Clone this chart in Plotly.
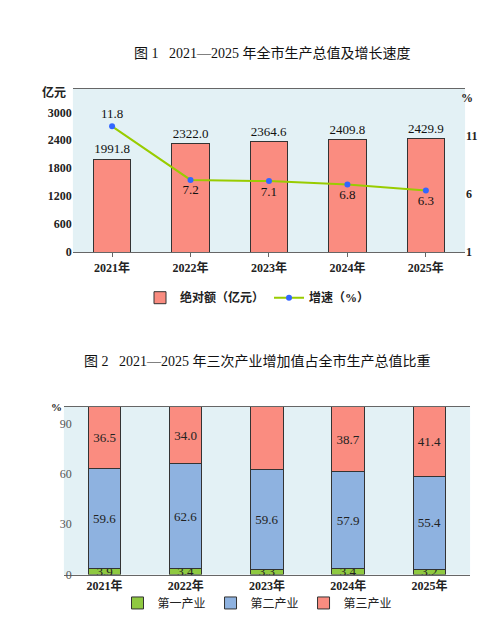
import plotly.graph_objects as go

years = ["2021年", "2022年", "2023年", "2024年", "2025年"]
gdp = [1991.8, 2322.0, 2364.6, 2409.8, 2429.9]
growth = [11.8, 7.2, 7.1, 6.8, 6.3]
primary = [3.9, 3.4, 3.3, 3.4, 3.2]
secondary = [59.6, 62.6, 59.6, 57.9, 55.4]
tertiary = [36.5, 34.0, 37.2, 38.7, 41.4]

F = "Liberation Serif, Noto Sans CJK SC"
BG = "#e3f1f5"
fig = go.Figure()

fig.add_trace(go.Bar(x=years, y=gdp, name="绝对额（亿元）", marker=dict(color="#fa8c80", line=dict(color="#333", width=1)),
                     text=[f"{v:.1f}" for v in gdp], textposition="outside", textfont=dict(size=13, color="#111"),
                     width=0.48, xaxis="x", yaxis="y", legend="legend", cliponaxis=False))
fig.add_trace(go.Scatter(x=years, y=growth, name="增速（%）", mode="lines+markers+text",
                         line=dict(color="#99cc00", width=2), marker=dict(color="#3366ff", size=6),
                         text=[f"{v:.1f}" for v in growth],
                         textposition=["top center"] + ["bottom center"] * 4,
                         textfont=dict(size=13, color="#111"),
                         xaxis="x", yaxis="y2", legend="legend", cliponaxis=False))

for nm, vals, col in [("第一产业", primary, "#8fc941"), ("第二产业", secondary, "#8eb2e0"), ("第三产业", tertiary, "#fa8c80")]:
    fig.add_trace(go.Bar(x=years, y=vals, name=nm, marker=dict(color=col, line=dict(color="#333", width=1)),
                         text=[f"{v:.1f}" for v in vals], textposition="inside", insidetextanchor="middle",
                         constraintext="none", cliponaxis=False,
                         textfont=dict(size=13, color="#222"), width=0.4,
                         xaxis="x2", yaxis="y3", legend="legend2"))

fig.update_layout(
    width=499, height=630, margin=dict(l=0, r=0, t=0, b=0),
    paper_bgcolor="white", plot_bgcolor=BG, barmode="stack",
    font=dict(family=F, color="#222", size=12), showlegend=True,
    xaxis=dict(domain=[0.13, 0.916], anchor="y", showline=True, linecolor="#666", mirror=True,
               ticks="outside", ticklen=4, tickcolor="#666", tickfont=dict(size=12, weight="bold")),
    yaxis=dict(domain=[0.608, 0.870], range=[0, 3500], tickvals=[0, 600, 1200, 1800, 2400, 3000],
               showgrid=False, zeroline=False, tickfont=dict(size=12, weight="bold")),
    yaxis2=dict(overlaying="y", side="right", anchor="x", range=[1, 15], tickvals=[1, 6, 11],
                showgrid=False, zeroline=False, tickfont=dict(size=12, weight="bold")),
    xaxis2=dict(domain=[0.112, 0.926], anchor="y3", showline=True, linecolor="#666", mirror=True,
                tickfont=dict(size=12, weight="bold")),
    yaxis3=dict(domain=[0.0905, 0.36], range=[0, 100], tickvals=[0, 30, 60, 90], showgrid=False,
                zeroline=False, tickfont=dict(size=12, color="#555")),
    legend=dict(orientation="h", x=0.5, xanchor="center", y=0.535, yanchor="middle", traceorder="normal",
                font=dict(size=12, weight="bold"), bgcolor="rgba(0,0,0,0)"),
    legend2=dict(orientation="h", x=0.5, xanchor="center", y=0.045, yanchor="middle", traceorder="normal",
                 font=dict(size=12), bgcolor="rgba(0,0,0,0)"),
    annotations=[
        dict(text="图 1   2021—2025 年全市生产总值及增长速度", x=0.53, y=1 - 35 / 630, xref="paper", yref="paper",
             showarrow=False, font=dict(size=14, color="#111")),
        dict(text="图 2   2021—2025 年三次产业增加值占全市生产总值比重", x=0.5, y=1 - 357 / 630, xref="paper", yref="paper",
             showarrow=False, font=dict(size=14, color="#111")),
        dict(text="亿元", x=0.065, y=1 - 76 / 630, xref="paper", yref="paper", showarrow=False,
             font=dict(size=12, weight="bold")),
        dict(text="%", x=0.935, y=1 - 82 / 630, xref="paper", yref="paper", showarrow=False,
             font=dict(size=12, weight="bold")),
        dict(text="%", x=0.083, y=1 - 403 / 630, xref="paper", yref="paper", showarrow=False,
             font=dict(size=11, weight="bold")),
    ],
)
fig.write_html("out.html")
